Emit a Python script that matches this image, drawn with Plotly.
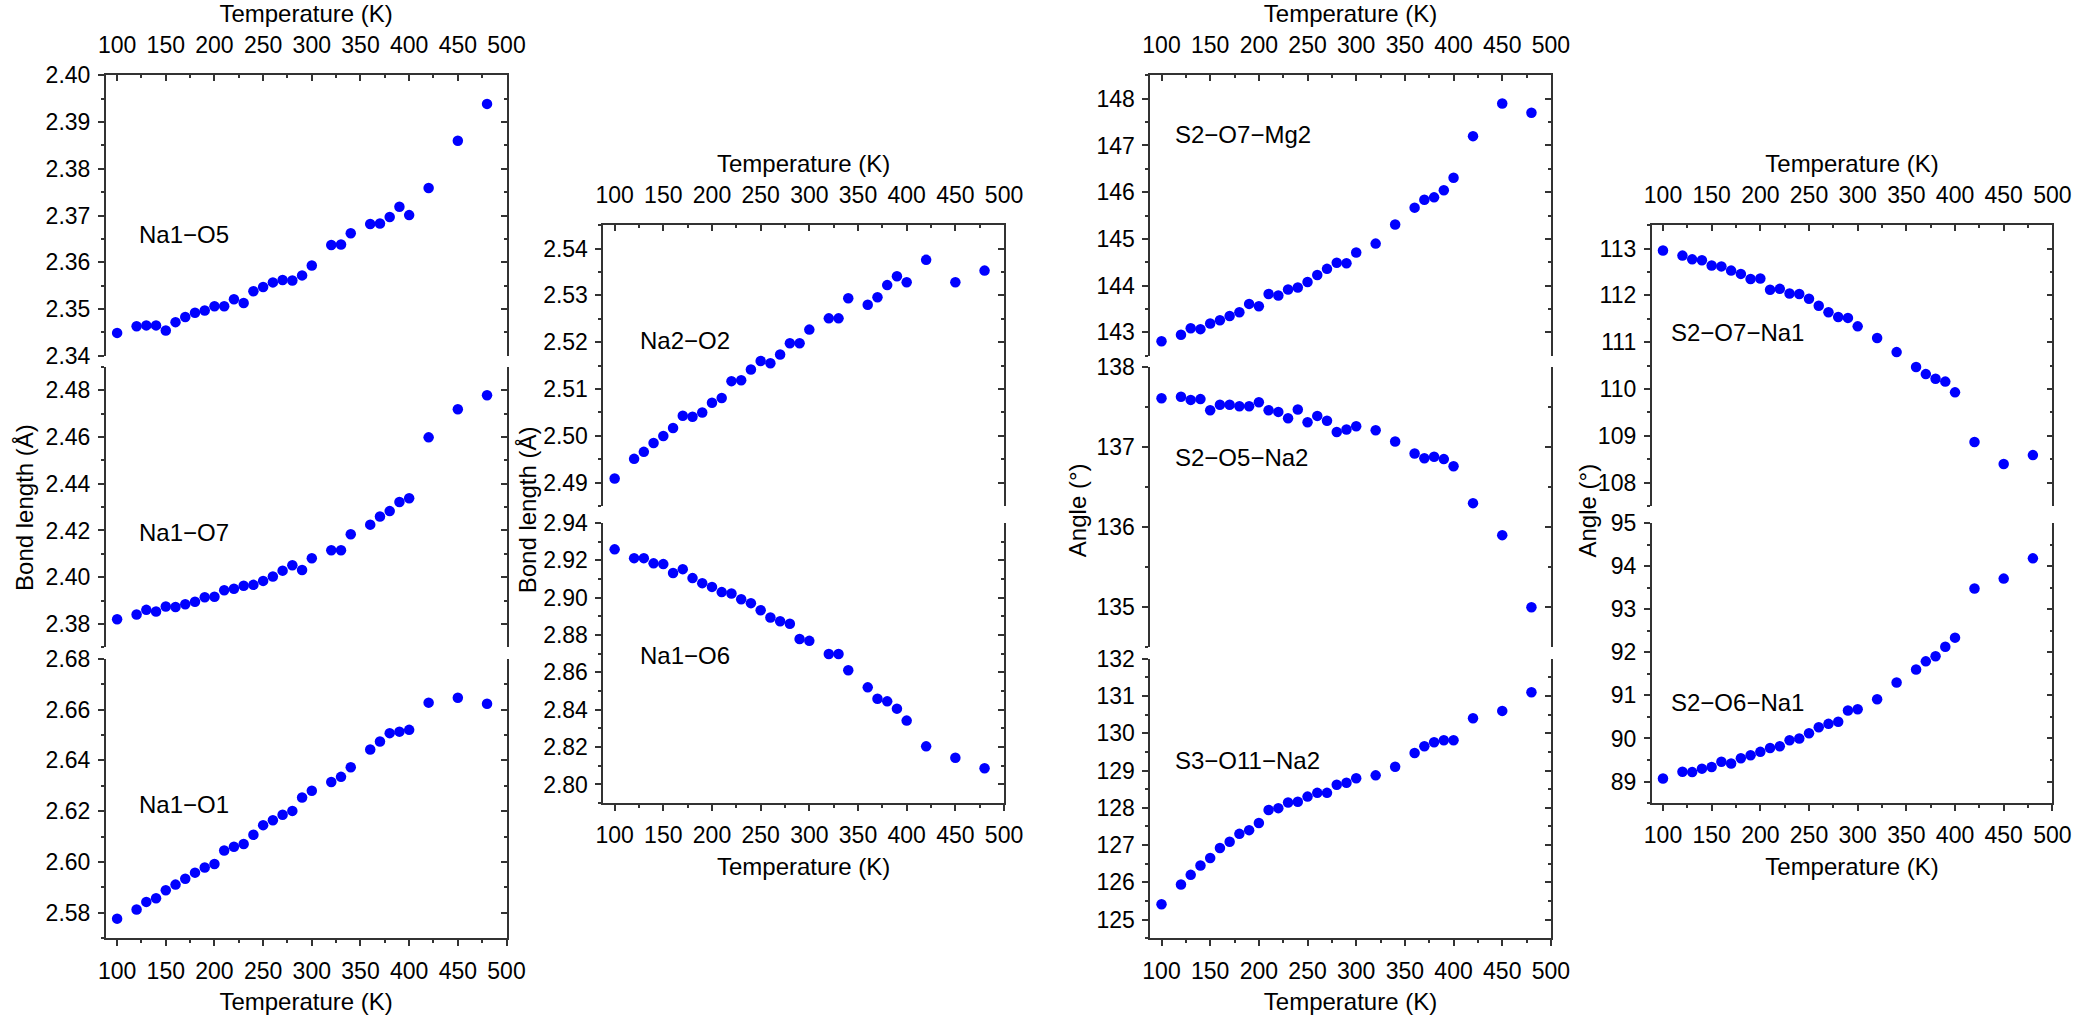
import plotly.graph_objects as go

# ---------------- data ----------------
T_bond = [100, 120, 130, 140, 150, 160, 170, 180, 190, 200, 210, 220, 230, 240, 250,
          260, 270, 280, 290, 300, 320, 330, 340, 360, 370, 380, 390, 400, 420, 450, 480]
T_angle = [100, 120, 130, 140, 150, 160, 170, 180, 190, 200, 210, 220, 230, 240, 250,
           260, 270, 280, 290, 300, 320, 340, 360, 370, 380, 390, 400, 420, 450, 480]

na1_o5 = [2.3449, 2.3463, 2.3465, 2.3465, 2.3454, 2.3472, 2.3483, 2.3492, 2.3497, 2.3506,
          2.3506, 2.3521, 2.3513, 2.3538, 2.3547, 2.3557, 2.3562, 2.3561, 2.3572, 2.3593,
          2.3637, 2.3638, 2.3662, 2.3682, 2.3683, 2.3697, 2.3719, 2.3701, 2.3759, 2.3860, 2.3939]
na1_o7 = [2.3820, 2.3840, 2.3860, 2.3853, 2.3874, 2.3872, 2.3884, 2.3895, 2.3914, 2.3916,
          2.3944, 2.3950, 2.3963, 2.3967, 2.3984, 2.4003, 2.4028, 2.4051, 2.4031, 2.4081,
          2.4115, 2.4115, 2.4184, 2.4225, 2.4260, 2.4283, 2.4322, 2.4338, 2.4599, 2.4719, 2.4779]
na1_o1 = [2.5777, 2.5813, 2.5843, 2.5857, 2.5889, 2.5911, 2.5934, 2.5958, 2.5978, 2.5992,
          2.6045, 2.6060, 2.6071, 2.6107, 2.6145, 2.6164, 2.6186, 2.6201, 2.6254, 2.6280,
          2.6315, 2.6335, 2.6373, 2.6443, 2.6474, 2.6507, 2.6513, 2.6520, 2.6627, 2.6646, 2.6623]
na2_o2 = [2.4909, 2.4951, 2.4966, 2.4985, 2.5000, 2.5017, 2.5043, 2.5041, 2.5050, 2.5071,
          2.5081, 2.5117, 2.5119, 2.5142, 2.5160, 2.5155, 2.5174, 2.5198, 2.5198, 2.5227,
          2.5251, 2.5251, 2.5294, 2.5280, 2.5296, 2.5322, 2.5341, 2.5328, 2.5376, 2.5328, 2.5353]
na1_o6 = [2.9259, 2.9212, 2.9212, 2.9184, 2.9180, 2.9132, 2.9153, 2.9105, 2.9078, 2.9058,
          2.9030, 2.9023, 2.8992, 2.8971, 2.8933, 2.8894, 2.8874, 2.8861, 2.8779, 2.8769,
          2.8699, 2.8699, 2.8612, 2.8520, 2.8459, 2.8445, 2.8406, 2.8342, 2.8204, 2.8143, 2.8087]

s2_o7_mg2 = [142.81, 142.95, 143.09, 143.07, 143.19, 143.26, 143.35, 143.43, 143.61, 143.56,
             143.82, 143.79, 143.92, 143.96, 144.08, 144.23, 144.36, 144.49, 144.48, 144.71,
             144.90, 145.31, 145.67, 145.84, 145.89, 146.04, 146.31, 147.20, 147.90, 147.70]
s2_o5_na2 = [137.61, 137.63, 137.59, 137.60, 137.46, 137.53, 137.53, 137.51, 137.51, 137.56,
             137.46, 137.44, 137.36, 137.47, 137.31, 137.39, 137.33, 137.19, 137.22, 137.26,
             137.21, 137.07, 136.92, 136.86, 136.88, 136.85, 136.76, 136.30, 135.90, 135.00]
s3_o11_na2 = [125.41, 125.94, 126.20, 126.45, 126.65, 126.92, 127.09, 127.30, 127.40, 127.59,
              127.94, 127.99, 128.14, 128.16, 128.30, 128.40, 128.40, 128.62, 128.67, 128.79,
              128.87, 129.10, 129.47, 129.65, 129.76, 129.81, 129.81, 130.40, 130.60, 131.10]
s2_o7_na1 = [112.96, 112.85, 112.77, 112.75, 112.64, 112.62, 112.53, 112.46, 112.35, 112.36,
             112.12, 112.14, 112.04, 112.03, 111.93, 111.78, 111.64, 111.54, 111.52, 111.34,
             111.09, 110.79, 110.47, 110.32, 110.22, 110.16, 109.93, 108.87, 108.40, 108.59]
s2_o6_na1 = [89.07, 89.23, 89.22, 89.30, 89.34, 89.46, 89.42, 89.54, 89.61, 89.69,
             89.78, 89.82, 89.96, 90.00, 90.12, 90.26, 90.34, 90.39, 90.65, 90.68,
             90.91, 91.30, 91.60, 91.79, 91.91, 92.13, 92.34, 93.48, 93.71, 94.18]

x_ticks = [100, 150, 200, 250, 300, 350, 400, 450, 500]
x_title = "Temperature (K)"
bond_title = "Bond length (Å)"
angle_title = "Angle (°)"

# ---------------- layout helpers ----------------
W, H = 2100, 1025
FONT = "Liberation Sans, Arial, sans-serif"
AX = "#333333"
BLUE = "#0000FF"
TICK_FS = 23
TITLE_FS = 24

col_x = {1: (99, 505), 2: (603, 1009), 3: (1157, 1563), 4: (1665, 2071)}
rows3 = {"top": (64, 351.7), "mid": (363.3, 650.7), "bot": (662.5, 949.3)}
rows2 = {"top": (217.7, 506), "bot": (523.3, 810.7)}

panels = [
    dict(T=T_bond, v=na1_o5, col=1, rows=rows3, pos="top", rng=[2.34, 2.40], dt=0.01, mdt=0.005, fmt=".2f", lab="Na1−O5", lx=131, ly=227),
    dict(T=T_bond, v=na1_o7, col=1, rows=rows3, pos="mid", rng=[2.37, 2.49], dt=0.02, mdt=0.01, fmt=".2f", lab="Na1−O7", lx=131, ly=533),
    dict(T=T_bond, v=na1_o1, col=1, rows=rows3, pos="bot", rng=[2.57, 2.68], dt=0.02, mdt=0.01, fmt=".2f", lab="Na1−O1", lx=131, ly=812),
    dict(T=T_bond, v=na2_o2, col=2, rows=rows2, pos="top", rng=[2.485, 2.545], dt=0.01, mdt=0.005, fmt=".2f", lab="Na2−O2", lx=638, ly=336),
    dict(T=T_bond, v=na1_o6, col=2, rows=rows2, pos="bot", rng=[2.79, 2.94], dt=0.02, mdt=0.01, fmt=".2f", lab="Na1−O6", lx=638, ly=659),
    dict(T=T_angle, v=s2_o7_mg2, col=3, rows=rows3, pos="top", rng=[142.5, 148.5], dt=1, mdt=0.5, fmt="d", lab="S2−O7−Mg2", lx=1180, ly=125),
    dict(T=T_angle, v=s2_o5_na2, col=3, rows=rows3, pos="mid", rng=[134.5, 138], dt=1, mdt=0.5, fmt="d", lab="S2−O5−Na2", lx=1180, ly=456),
    dict(T=T_angle, v=s3_o11_na2, col=3, rows=rows3, pos="bot", rng=[124.5, 132], dt=1, mdt=0.5, fmt="d", lab="S3−O11−Na2", lx=1180, ly=767),
    dict(T=T_angle, v=s2_o7_na1, col=4, rows=rows2, pos="top", rng=[107.5, 113.5], dt=1, mdt=0.5, fmt="d", lab="S2−O7−Na1", lx=1683, ly=328),
    dict(T=T_angle, v=s2_o6_na1, col=4, rows=rows2, pos="bot", rng=[88.5, 95], dt=1, mdt=0.5, fmt="d", lab="S2−O6−Na1", lx=1683, ly=707),
]

fig = go.Figure()
layout = {}
annotations = []
n = len(panels)

for i, p in enumerate(panels, start=1):
    sx = "" if i == 1 else str(i)
    xa, ya = "x" + sx, "y" + sx
    yr = "y" + str(n + i)
    fig.add_trace(go.Scatter(x=p["T"], y=p["v"], mode="markers",
                             marker=dict(color=BLUE, size=10.5, line=dict(width=0)),
                             xaxis=xa, yaxis=ya, showlegend=False))
    fig.add_trace(go.Scatter(x=[], y=[], mode="markers", xaxis=xa, yaxis=yr,
                             showlegend=False, hoverinfo="skip"))

    x0, x1 = col_x[p["col"]]
    top, bot = p["rows"][p["pos"]]
    xdom = [x0 / W, x1 / W]
    ydom = [1 - bot / H, 1 - top / H]

    xax = dict(domain=xdom, anchor=ya, range=[88.3, 500], tickvals=x_ticks,
               showgrid=False, zeroline=False, linecolor=AX, linewidth=1.5,
               tickcolor=AX, tickwidth=1.5, ticklen=6,
               tickfont=dict(size=TICK_FS, color="black", family=FONT))
    if p["pos"] == "top":
        xax.update(side="top", ticks="inside", showline=True, showticklabels=True,
                   ticklabelstandoff=11,
                   minor=dict(ticks="inside", dtick=25, tick0=0, ticklen=3, tickcolor=AX, tickwidth=1.5),
                   title=dict(text=x_title, standoff=3, font=dict(size=TITLE_FS, color="black", family=FONT)))
    elif p["pos"] == "bot":
        xax.update(side="bottom", ticks="outside", showline=True, showticklabels=True,
                   ticklabelstandoff=5,
                   minor=dict(ticks="outside", dtick=25, tick0=0, ticklen=3, tickcolor=AX, tickwidth=1.5),
                   title=dict(text=x_title, standoff=11, font=dict(size=TITLE_FS, color="black", family=FONT)))
    else:
        xax.update(showline=False, ticks="", showticklabels=False)
    layout["xaxis" + sx] = xax

    layout["yaxis" + sx] = dict(domain=ydom, anchor=xa, side="left", range=p["rng"],
                               dtick=p["dt"], tick0=0, tickformat=p["fmt"],
                               showgrid=False, zeroline=False, showline=True,
                               linecolor=AX, linewidth=1.5, ticks="outside", ticklen=6,
                               tickcolor=AX, tickwidth=1.5, ticklabelstandoff=3,
                               tickfont=dict(size=TICK_FS, color="black", family=FONT),
                               minor=dict(ticks="outside", dtick=p["mdt"], tick0=0, ticklen=3,
                                          tickcolor=AX, tickwidth=1.5))
    layout["yaxis" + str(n + i)] = dict(overlaying=ya, anchor=xa, side="right", range=p["rng"],
                                        dtick=p["dt"], tick0=0, showticklabels=False,
                                        showgrid=False, zeroline=False, showline=True,
                                        linecolor=AX, linewidth=1.5, ticks="inside", ticklen=6,
                                        tickcolor=AX, tickwidth=1.5,
                                        minor=dict(ticks="inside", dtick=p["mdt"], tick0=0, ticklen=3,
                                                   tickcolor=AX, tickwidth=1.5))

    annotations.append(dict(text=p["lab"], x=p["lx"] / W, y=1 - p["ly"] / H, xref="paper", yref="paper",
                            xanchor="left", yanchor="middle", showarrow=False,
                            font=dict(size=TITLE_FS, color="black", family=FONT)))

for txt, px, py in [(bond_title, 16, 507), (bond_title, 526, 510),
                    (angle_title, 1083, 510), (angle_title, 1600, 510)]:
    annotations.append(dict(text=txt, x=px / W, y=1 - py / H, xref="paper", yref="paper",
                            xanchor="center", yanchor="middle", textangle=-90, showarrow=False,
                            font=dict(size=TITLE_FS, color="black", family=FONT)))

fig.update_layout(**layout)
fig.update_layout(width=W, height=H, margin=dict(l=0, r=0, t=0, b=0),
                  paper_bgcolor="white", plot_bgcolor="white",
                  font=dict(family=FONT, color="black"),
                  annotations=annotations, showlegend=False)

fig.write_html("out.html")
